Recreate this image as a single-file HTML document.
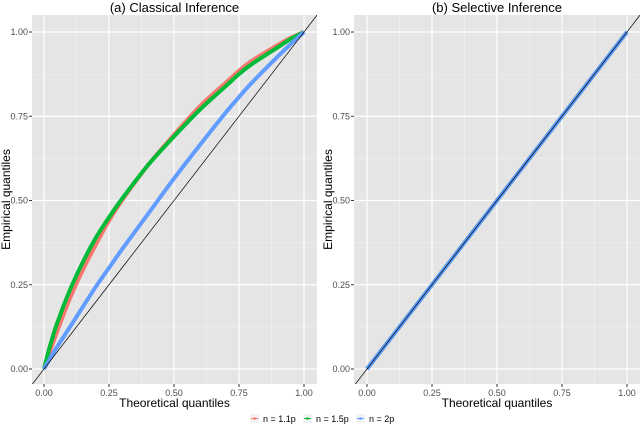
<!DOCTYPE html>
<html><head><meta charset="utf-8"><style>
body{margin:0;background:#fff;font-family:"Liberation Sans",sans-serif}
</style></head><body>
<svg id="c" width="640" height="425" xmlns="http://www.w3.org/2000/svg" font-family="Liberation Sans, sans-serif"></svg>
<script>
const ticks=[0,0.25,0.5,0.75,1];
const tickLabels=["0.00","0.25","0.50","0.75","1.00"];
const qx=[0,0.02,0.05,0.1,0.15,0.2,0.25,0.3,0.4,0.5,0.6,0.7,0.75,0.8,0.9,0.95,1];
const red=[0,0.045,0.11,0.21,0.295,0.37,0.44,0.5,0.605,0.695,0.78,0.85,0.885,0.915,0.962,0.983,1];
const green=[0,0.06,0.135,0.235,0.318,0.39,0.45,0.505,0.605,0.69,0.77,0.84,0.875,0.905,0.955,0.98,1];
const blue=[0,0.027,0.065,0.125,0.185,0.245,0.30,0.355,0.46,0.565,0.665,0.762,0.807,0.85,0.928,0.965,1];
const rightVals=[0,0.02,0.05,0.1,0.15,0.2,0.25,0.3,0.4,0.5,0.6,0.7,0.75,0.8,0.9,0.95,1];
const seriesNames=["n = 1.1p","n = 1.5p","n = 2p"];
const colors=["#F8766D","#00BA38","#619CFF"];
const svg=document.getElementById('c');
const NS="http://www.w3.org/2000/svg";
function mk(t,a,p){const e=document.createElementNS(NS,t);for(const k in a)e.setAttribute(k,a[k]);(p||svg).appendChild(e);return e;}
function smooth(pts){let d='M'+pts[0][0]+','+pts[0][1];
 for(let i=0;i<pts.length-1;i++){const p0=pts[Math.max(0,i-1)],p1=pts[i],p2=pts[i+1],p3=pts[Math.min(pts.length-1,i+2)];
  const c1=[p1[0]+(p2[0]-p0[0])/6,p1[1]+(p2[1]-p0[1])/6],c2=[p2[0]-(p3[0]-p1[0])/6,p2[1]-(p3[1]-p1[1])/6];
  d+=` C${c1[0]},${c1[1]} ${c2[0]},${c2[1]} ${p2[0]},${p2[1]}`;}
 return d;}
const panels=[{l:32,r:317,x0:44,x1:304,title:"(a) Classical Inference",name:"classical",series:[red,green,blue]},
{l:354,r:640,x0:367,x1:627,title:"(b) Selective Inference",name:"selective",series:[rightVals,rightVals,rightVals]}];
const topY=15,bot=384,y0=369,y1=32;
panels.forEach(p=>{
 const g=mk('g',{});
 
 
 const X=v=>p.x0+v*(p.x1-p.x0), Y=v=>y0+v*(y1-y0);
 mk('rect',{x:p.l,y:topY,width:p.r-p.l,height:bot-topY,fill:'#E5E5E5'},g);
 for(let i=0;i<4;i++){const m=(ticks[i]+ticks[i+1])/2;
  mk('line',{x1:X(m),x2:X(m),y1:topY,y2:bot,stroke:'#F2F2F2','stroke-width':0.6},g);
  mk('line',{x1:p.l,x2:p.r,y1:Y(m),y2:Y(m),stroke:'#F2F2F2','stroke-width':0.6},g);}
 ticks.forEach((t,i)=>{
  mk('line',{x1:X(t),x2:X(t),y1:topY,y2:bot,stroke:'#fff','stroke-width':1.2},g);
  mk('line',{x1:p.l,x2:p.r,y1:Y(t),y2:Y(t),stroke:'#fff','stroke-width':1.2},g);
  mk('line',{x1:X(t),x2:X(t),y1:bot,y2:bot+3,stroke:'#333'},g);
  mk('line',{x1:p.l-3,x2:p.l,y1:Y(t),y2:Y(t),stroke:'#333'},g);
  const tx=mk('text',{x:X(t),y:bot+12,'font-size':9,fill:'#4D4D4D','text-anchor':'middle'},g);tx.textContent=tickLabels[i];
  
  
  const ty=mk('text',{x:p.l-4,y:Y(t)+3,'font-size':9,fill:'#4D4D4D','text-anchor':'end'},g);ty.textContent=tickLabels[i];
  
  
 });
 const cp=mk('clipPath',{id:'cp'+p.name},g);mk('rect',{x:p.l,y:topY,width:p.r-p.l,height:bot-topY},cp);
 const inner=mk('g',{'clip-path':'url(#cp'+p.name+')'},g);
 p.series.forEach((s,si)=>{
  const pl=mk('path',{d:smooth(qx.map((v,i)=>[X(v),Y(s[i])])),fill:'none',stroke:colors[si],'stroke-width':4,'stroke-linejoin':'round'},inner);
  
  
 });
 const ref=mk('line',{x1:X(-0.1),y1:Y(-0.1),x2:X(1.1),y2:Y(1.1),stroke:'#000','stroke-width':0.7},inner);
 
 
 const tt=mk('text',{x:(p.l+p.r)/2,y:12,'font-size':13,fill:'#000','text-anchor':'middle'},g);tt.textContent=p.title;
 
 
 const xt=mk('text',{x:(p.l+p.r)/2,y:407,'font-size':12,fill:'#000','text-anchor':'middle'},g);xt.textContent="Theoretical quantiles";
 
 
 const yc=p.l-22,ym=(topY+bot)/2;
 const yt=mk('text',{x:yc,y:ym,'font-size':12,fill:'#000','text-anchor':'middle',transform:`rotate(-90 ${yc} ${ym})`},g);yt.textContent="Empirical quantiles";
 
 
});
const lg=mk('g',{});


const lx=[250,303,356];
seriesNames.forEach((n,i)=>{
 const e=mk('g',{},lg);
 
 
 mk('rect',{x:lx[i],y:414,width:9,height:9,fill:'#F2F2F2'},e);
 mk('line',{x1:lx[i]+1,x2:lx[i]+8,y1:418.5,y2:418.5,stroke:colors[i],'stroke-width':1},e);
 mk('circle',{cx:lx[i]+4.5,cy:418.5,r:1.3,fill:colors[i]},e);
 const t=mk('text',{x:lx[i]+13,y:422,'font-size':9,fill:'#000'},e);t.textContent=n;
});
</script>
</body></html>
